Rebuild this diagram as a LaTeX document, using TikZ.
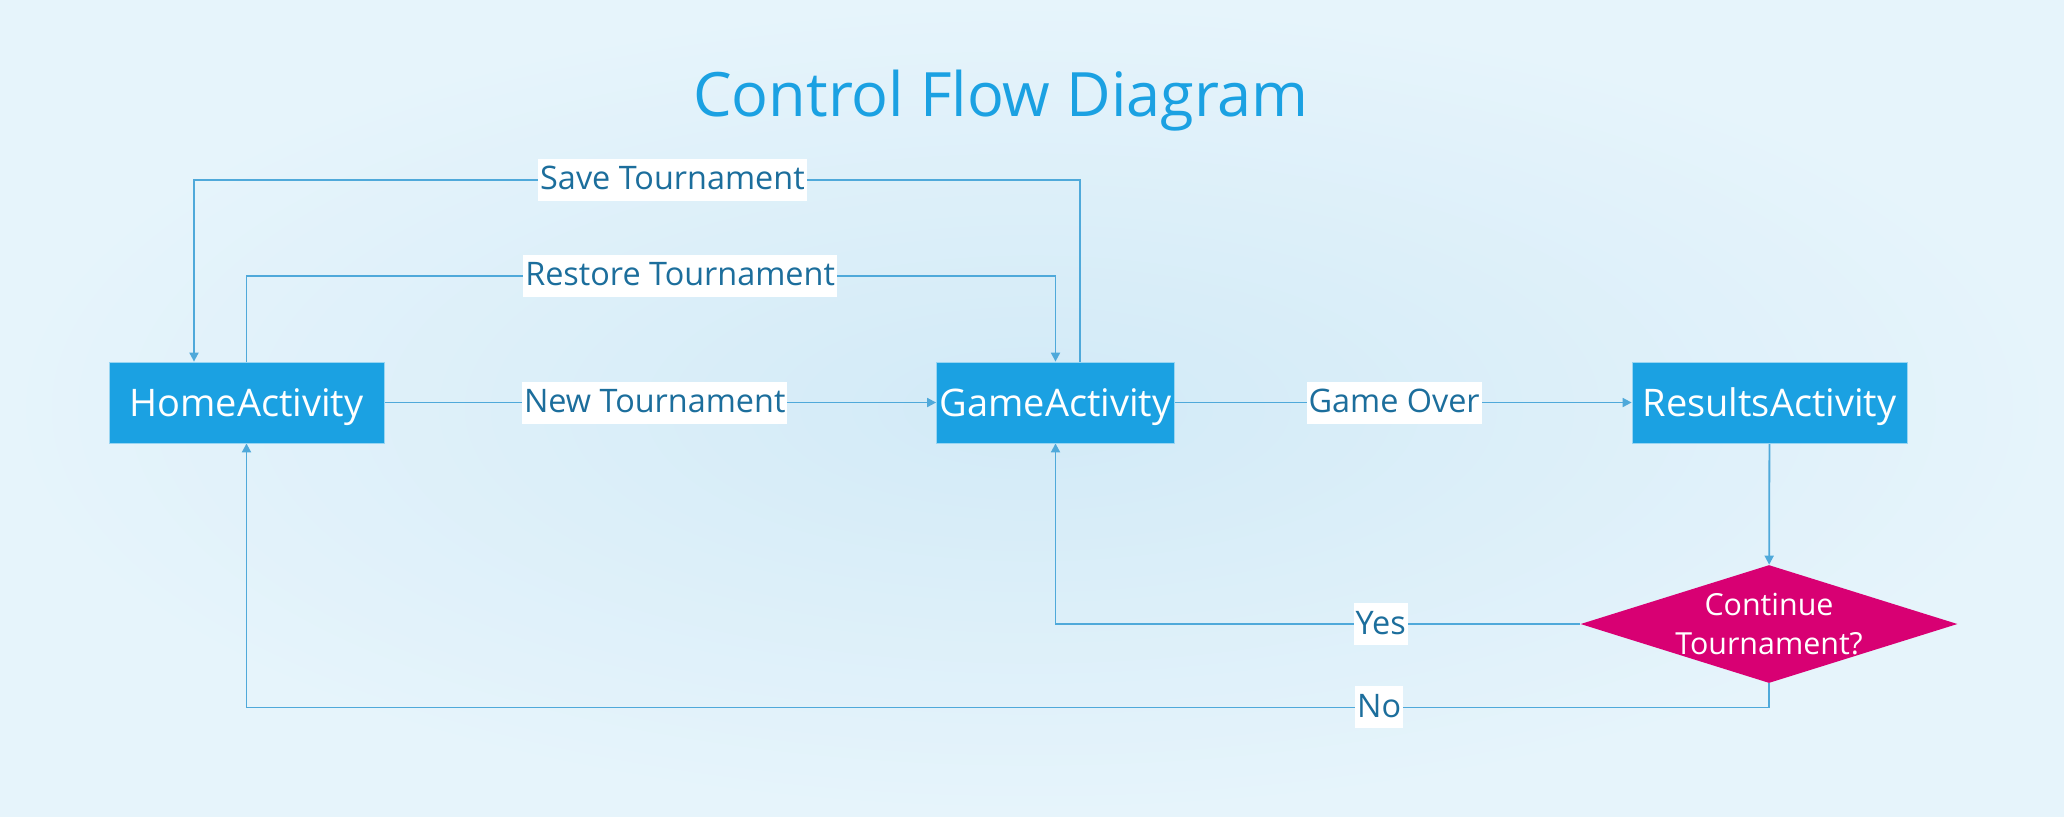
\documentclass[tikz,border=0pt]{standalone}
\usepackage{fontspec}
\setmainfont{Open Sans}
\usetikzlibrary{arrows.meta,shapes.geometric}
\definecolor{metroblue}{HTML}{1BA1E2}
\definecolor{metromagenta}{HTML}{D80073}
\definecolor{flowline}{HTML}{4FA9DA}
\definecolor{labeltext}{HTML}{1C6E9C}
\definecolor{bginner}{HTML}{D2EAF7}
\definecolor{bgouter}{HTML}{E6F4FB}
\tikzstyle{Title}=[text=metroblue, anchor=base, font=\fontsize{30.6}{36}\selectfont]
\tikzstyle{Activity}=[shape=rectangle, minimum height=40.5pt, inner sep=0pt, fill=metroblue, draw=white!55!metroblue, line width=0.4pt, text=white, text height=14pt, text depth=0pt, font=\fontsize{19}{22}\selectfont]
\tikzstyle{Decision}=[shape=diamond, aspect=3.2, minimum width=188.5pt, minimum height=59pt, inner sep=-4pt, fill=metromagenta, text=white, align=center, font=\fontsize{15.2}{19.5}\selectfont]
\tikzstyle{Label}=[fill=white, text=labeltext, inner xsep=1pt, inner ysep=0pt, text height=15.5pt, text depth=5.5pt, font=\fontsize{16.2}{20}\selectfont]
\tikzstyle{arrow}=[line width=0.9pt, draw=flowline, >={Triangle[length=4.5pt,width=4.5pt]}]
\pgfdeclarelayer{nodelayer}
\pgfdeclarelayer{edgelayer}
\pgfsetlayers{main, edgelayer, nodelayer}
\begin{document}
\begin{tikzpicture}[x=0.5pt, y=-0.5pt]
	\useasboundingbox (0, 0) rectangle (2064, 816);
	\shade [inner color=bginner, outer color=bgouter] (0, 0) rectangle (2064, 816);
	\begin{pgfonlayer}{nodelayer}
		\node [style=Title] (title) at (1001, 116) {Control Flow Diagram};
		\node [style=Activity, minimum width=137.5pt] (home) at (246.5, 402.5) {HomeActivity};
		\node [style=Activity, minimum width=119pt] (game) at (1055.5, 402.5) {GameActivity};
		\node [style=Activity, minimum width=137.5pt] (results) at (1769.5, 402.5) {ResultsActivity};
		\node [style=Decision] (continue) at (1769, 624) {Continue\\Tournament?};
	\end{pgfonlayer}
	\begin{pgfonlayer}{edgelayer}
		\draw [->, style=arrow] (home) to node[style=Label, pos=0.49] {New Tournament} (game);
		\draw [->, style=arrow] (game) to node[style=Label, pos=0.48] {Game Over} (results);
		\draw [->, style=arrow] (results) to (continue);
		\draw [->, style=arrow] ([xshift=12.25pt]game.north) -- ++(0, -182) -| node[style=Label, pos=0.23] {Save Tournament} ([xshift=-26.25pt]home.north);
		\draw [->, style=arrow] (home.north) -- ++(0, -86) -| node[style=Label, pos=0.268] {Restore Tournament} (game.north);
		\draw [->, style=arrow] (continue.west) -| node[style=Label, pos=0.19] {Yes} (game.south);
		\draw [->, style=arrow] (continue.south) -- ++(0, 24) -| node[style=Label, pos=0.128] {No} (home.south);
	\end{pgfonlayer}
\end{tikzpicture}
\end{document}
